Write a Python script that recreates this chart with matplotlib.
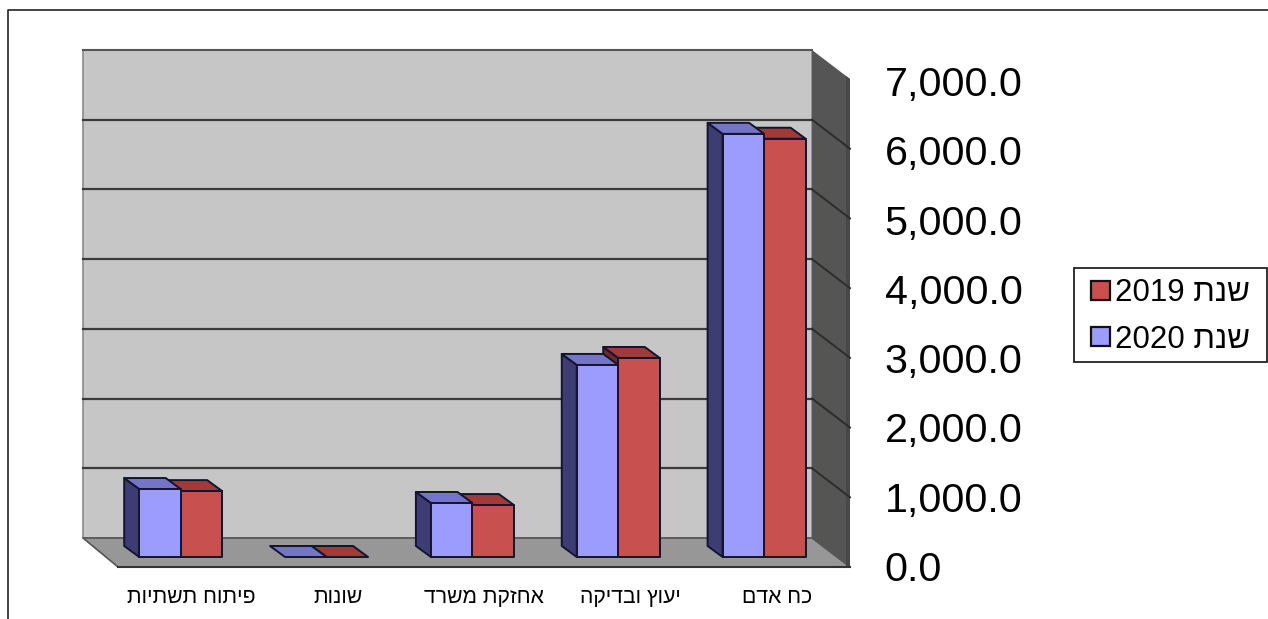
import matplotlib
matplotlib.use("Agg")
import matplotlib.pyplot as plt
from matplotlib.lines import Line2D
from matplotlib.patches import Polygon, Rectangle

plt.rcParams["font.family"] = ["Liberation Sans", "DejaVu Sans"]

categories = ["פיתוח תשתיות", "שונות", "אחזקת משרד", "יעוץ ובדיקה", "כח אדם"]
years = ["2019", "2020"]
values_2019 = [945, 0, 745, 2855, 6000]
values_2020 = [975, 0, 775, 2755, 6070]
y_ticks = [0, 1000, 2000, 3000, 4000, 5000, 6000, 7000]

W, H = 1268, 619
# front plane of the fake 3D box, in pixels
LEFT, RIGHT, BOTTOM, TOP = 118, 850, 567, 79
X_UNIT = (RIGHT - LEFT) / 5
Y_UNIT = (BOTTOM - TOP) / 7000


def heb(s):
    # matplotlib has no bidi, so hebrew goes in visual order
    return s[::-1]


def shift(x, y, dx_px, dy_px):
    return x + dx_px / X_UNIT, y + dy_px / Y_UNIT


def poly(ax, pts, fc, ec="none", lw=0.0, z=1):
    ax.add_patch(Polygon(pts, closed=True, facecolor=fc, edgecolor=ec, linewidth=lw,
                         joinstyle="round", clip_on=False, zorder=z))


fig = plt.figure(figsize=(W / 100, H / 100), dpi=100)
ax = fig.add_axes([LEFT / W, 1 - BOTTOM / H, (RIGHT - LEFT) / W, (BOTTOM - TOP) / H])
ax.set_xlim(-0.5, 4.5)
ax.set_ylim(0, 7000)

# box
x0, x1, y0, y1 = -0.5, 4.5, 0, 7000
BACK_L = (-35, 29)
BACK_R = (-38, 29)
bl = shift(x0, y0, *BACK_L)
br = shift(x1, y0, *BACK_R)
tl = shift(x0, y1, *BACK_L)
tr = shift(x1, y1, *BACK_R)
poly(ax, [bl, br, tr, tl], "#c6c6c6", "#8a8a8a", 1.2, 1)
poly(ax, [bl, br, (x1, y0), (x0, y0)], "#979797", "#555555", 1.2, 2)
poly(ax, [br, tr, (x1, y1), (x1, y0)], "#555555", "none", 0, 2)
poly(ax, [shift(x1, y0, -4, 0), shift(x1, y1, -4, 3), (x1, y1), (x1, y0)], "#474747", z=2)
ax.plot([x0, x1], [y0, y0], color="#333333", lw=1.5, clip_on=False, zorder=3)
ax.plot([tl[0], tr[0]], [tl[1], tr[1]], color="#555555", lw=1.5, clip_on=False, zorder=3)

for t in y_ticks[1:-1]:
    a = shift(x0, t, *BACK_L)
    b = shift(x1, t, *BACK_R)
    ax.plot([a[0], b[0]], [a[1], b[1]], color="#3a3a3a", lw=1.6, clip_on=False, zorder=2)
    ax.plot([b[0], x1], [b[1], t], color="#2c2c2c", lw=1.4, clip_on=False, zorder=2)

# bars sit 10px in from the front plane
BAR_W = 41.5 / X_UNIT
BAR_STEP = 145.85 / X_UNIT
PLANE = (-10.5, 10)
DEPTH = (-15, 11)
EDGE = "#14142e"


def bar(i, v, left, front, side, top):
    ax_l, base = shift(i * BAR_STEP + left, 0, *PLANE)
    ax_r = ax_l + BAR_W
    y_top = base + v
    if v > 0:
        poly(ax, [(ax_l, base), shift(ax_l, base, *DEPTH), shift(ax_l, y_top, *DEPTH), (ax_l, y_top)],
             side, EDGE, 1.4, 4)
    poly(ax, [(ax_l, y_top), shift(ax_l, y_top, *DEPTH), shift(ax_r, y_top, *DEPTH), (ax_r, y_top)],
         top, EDGE, 1.4, 4)
    if v > 0:
        poly(ax, [(ax_l, base), (ax_r, base), (ax_r, y_top), (ax_l, y_top)], front, EDGE, 1.4, 4)


for i in range(len(categories)):
    bar(i, values_2019[i], 0, "#c8504f", "#6e2a2a", "#a33a3a")
    bar(i, values_2020[i], -BAR_W, "#9c9cff", "#3d3d73", "#7474c8")

for s in ax.spines.values():
    s.set_visible(False)
ax.set_xticks(range(len(categories)))
ax.set_xticklabels([heb(c) for c in categories], fontsize=15.2)
ax.set_yticks([])
ax.tick_params(axis="x", length=0, pad=15)
ax.patch.set_visible(False)

# the value labels run on a slightly tighter scale than the box, so they get their own axes
ax_val = fig.add_axes([LEFT / W, 1 - 566 / H, (RIGHT - LEFT) / W, (566 - 81) / H])
ax_val.set_ylim(0, 7000)
ax_val.set_xticks([])
ax_val.set_yticks(y_ticks)
ax_val.set_yticklabels([f"{t:,.1f}" for t in y_ticks], fontsize=29.7)
ax_val.yaxis.tick_right()
ax_val.tick_params(axis="y", length=0, pad=25)
ax_val.patch.set_visible(False)
for s in ax_val.spines.values():
    s.set_visible(False)

# legend frame drawn apart so its size does not depend on the text padding
fig.add_artist(Rectangle((1073.5 / W, 1 - 361.5 / H), 193.5 / W, 94 / H, transform=fig.transFigure,
                         facecolor="white", edgecolor="#222222", linewidth=1.3))
handles = [Rectangle((0, 0), 1, 1, facecolor="#c8504f", edgecolor="#111111", linewidth=1.6),
           Rectangle((0, 0), 1, 1, facecolor="#9c9cff", edgecolor="#111111", linewidth=1.6)]
labels = [y + " " + heb("שנת") for y in years]
leg = fig.legend(handles, labels, loc="center", bbox_to_anchor=(1171 / W, 1 - 316.5 / H),
                 fontsize=22.5, frameon=False, handlelength=0.58, handleheight=0.58,
                 handletextpad=0.19, labelspacing=0.52, borderpad=0, borderaxespad=0)
leg.set_zorder(5)

# outer chart border, cut off by the crop on the right and bottom
fig.add_artist(Line2D([8 / W, 8 / W, 1], [0, 1 - 9.5 / H, 1 - 9.5 / H], color="#222222", lw=1.2))

fig.savefig("out.png", dpi=100)
